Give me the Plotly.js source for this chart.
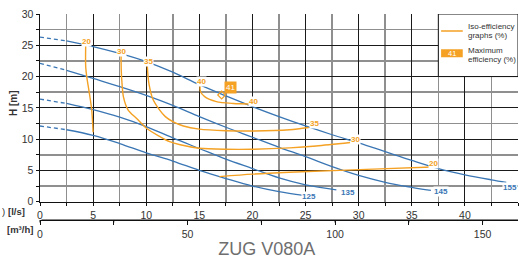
<!DOCTYPE html>
<html>
<head>
<meta charset="utf-8">
<script src="https://cdn.plot.ly/plotly-3.0.1.min.js"></script>
<style>html,body{margin:0;padding:0;background:#fff;}#chart{width:519px;height:260px;}</style>
</head>
<body>
<div id="chart"></div>
<script>
// ---------- data (Q in l/s, H in m) ----------
const curve155X = [0, 2.5, 5, 7.5, 10, 12.5, 15, 17.5, 20, 22.5, 25, 27.5, 30, 32.5, 35, 37.5, 40, 42.5, 43.9];
const curve155Y = [26.3, 25.7, 24.8, 23.7, 22.4, 20.7, 18.7, 16.9, 15.2, 13.6, 12.1, 10.7, 9.4, 8.0, 6.6, 5.3, 4.3, 3.5, 3.1];
const curve145X = [0, 2.5, 5, 7.5, 10, 12.5, 15, 17.5, 20, 22.5, 25, 27.5, 30, 32.5, 35, 36.8];
const curve145Y = [22.1, 21.0, 19.7, 18.4, 17.0, 15.4, 13.6, 11.9, 10.3, 8.7, 7.2, 5.6, 4.2, 3.1, 2.3, 1.8];
const curve135X = [0, 2.5, 5, 7.5, 10, 12.5, 15, 17.5, 20, 22.5, 25, 27.9];
const curve135Y = [16.4, 15.7, 14.7, 13.5, 12.0, 10.2, 8.5, 6.8, 5.3, 3.8, 2.7, 1.9];
const curve125X = [0, 2.5, 5, 7.5, 10, 12.5, 15, 17.5, 20, 22.5, 24.8];
const curve125Y = [12.1, 11.5, 10.6, 9.3, 7.8, 6.5, 5.0, 3.7, 2.5, 1.6, 1.0];
const dashEndQ = 2.5; // pump curves are dashed below this flow

const pumpNames = ['125', '135', '145', '155'];
const pumpLabelX = [25.3, 28.95, 37.75, 44.2];
const pumpLabelY = [0.88, 1.5, 1.66, 2.27];

// iso-efficiency curves
const iso20aX = [4.3, 4.3, 4.4, 4.65, 4.87, 5.0];
const iso20aY = [25.0, 21.6, 20.0, 17.3, 14.65, 11.1];
const iso20bX = [16.9, 20, 23.5, 28.2, 32, 36.9];
const iso20bY = [4.0, 4.4, 4.7, 5.0, 5.25, 5.55];
const iso30X = [7.63, 7.65, 7.7, 7.85, 8.3, 9.1, 10.05, 11.3, 12.2, 13.2, 15, 17.5, 20, 23.5, 26, 29.2];
const iso30Y = [23.5, 21.0, 19.4, 16.8, 14.65, 13.3, 11.7, 10.4, 9.6, 9.1, 8.55, 8.38, 8.38, 8.6, 8.9, 9.45];
const iso35X = [10.1, 10.15, 10.25, 10.6, 11.2, 11.8, 12.5, 13.5, 15, 17.5, 20, 23.5, 25.3];
const iso35Y = [21.9, 20.5, 18.9, 16.5, 14.8, 13.6, 12.8, 12.1, 11.6, 11.35, 11.3, 11.5, 11.85];
const iso40X = [15.07, 15.1, 15.5, 16.6, 18.2, 19.8, 20.1];
const iso40Y = [18.6, 17.6, 16.8, 16.0, 15.7, 15.6, 15.45];

const isoNames = ['20', '30', '35', '40', '40', '35', '30', '20'];
const isoLabelX = [4.4, 7.7, 10.2, 15.2, 20.1, 25.8, 29.7, 37.0];
const isoLabelY = [25.55, 24.0, 22.4, 19.2, 16.0, 12.5, 10.0, 6.1];

const bestQ = [17.1];
const bestH = [17.05];
const bestEff = '41';
const bestLabelX = 17.9, bestLabelY = 18.3;

const qMaxLs = 45;
const lsToM3h = 3.6;
const m3hTickVals = [0, 25, 50, 75, 100, 125, 150];
const m3hTickText = ['0', '', '50', '', '100', '', '150'];

// ---------- styling ----------
const BLUE = '#3a76b4';
const ORANGE = '#f4a124';
const FONT = 'Liberation Sans, Arial, sans-serif';
const INK = '#111';

const traces = [];
function pumpTraces(xs, ys) {
  const dx = [], dy = [], sx = [], sy = [];
  xs.forEach((x, i) => {
    if (x <= dashEndQ) { dx.push(x); dy.push(ys[i]); }
    if (x >= dashEndQ) { sx.push(x); sy.push(ys[i]); }
  });
  traces.push({x: dx, y: dy, mode: 'lines', line: {color: BLUE, width: 1.3, dash: '4px,3px', shape: 'spline'}, hoverinfo: 'skip', showlegend: false});
  traces.push({x: sx, y: sy, mode: 'lines', line: {color: BLUE, width: 1.3, shape: 'spline'}, hoverinfo: 'skip', showlegend: false});
}
pumpTraces(curve155X, curve155Y);
pumpTraces(curve145X, curve145Y);
pumpTraces(curve135X, curve135Y);
pumpTraces(curve125X, curve125Y);

[[iso20aX, iso20aY], [iso20bX, iso20bY], [iso30X, iso30Y], [iso35X, iso35Y], [iso40X, iso40Y]].forEach(([xs, ys]) => {
  traces.push({x: xs, y: ys, mode: 'lines', line: {color: ORANGE, width: 1.4, shape: 'spline', smoothing: 0.8}, hoverinfo: 'skip', showlegend: false});
});

traces.push({x: bestQ, y: bestH, mode: 'markers', marker: {symbol: 'diamond-open', size: 6, color: ORANGE, line: {width: 1.2, color: ORANGE}}, hoverinfo: 'skip', showlegend: false});

// invisible trace on a flat helper subplot carrying the m³/h axis labels
traces.push({x: [0, qMaxLs * lsToM3h], y: [null, null], xaxis: 'x2', yaxis: 'y2', mode: 'lines', hoverinfo: 'skip', showlegend: false});

const annotations = [];
pumpNames.forEach((t, i) => annotations.push({x: pumpLabelX[i], y: pumpLabelY[i], text: '<b>' + t + '</b>', showarrow: false, font: {family: FONT, size: 8, color: BLUE}, bgcolor: '#fff', borderpad: 0}));
isoNames.forEach((t, i) => annotations.push({x: isoLabelX[i], y: isoLabelY[i], text: '<b>' + t + '</b>', showarrow: false, font: {family: FONT, size: 8, color: ORANGE}, bgcolor: '#fff', borderpad: 0}));
annotations.push({x: bestLabelX, y: bestLabelY, text: bestEff, showarrow: false, font: {family: FONT, size: 8, color: '#fff'}, bgcolor: ORANGE, borderpad: 1});

// legend texts
const legFont = {family: FONT, size: 8, color: '#333'};
annotations.push({x: 40.1, y: 28.07, xanchor: 'left', yanchor: 'middle', text: 'Iso-efficiency', showarrow: false, font: legFont});
annotations.push({x: 40.1, y: 26.63, xanchor: 'left', yanchor: 'middle', text: 'graphs (%)', showarrow: false, font: legFont});
annotations.push({x: 40.1, y: 24.23, xanchor: 'left', yanchor: 'middle', text: 'Maximum', showarrow: false, font: legFont});
annotations.push({x: 40.1, y: 22.7, xanchor: 'left', yanchor: 'middle', text: 'efficiency (%)', showarrow: false, font: legFont});
annotations.push({x: 38.78, y: 23.71, text: bestEff, showarrow: false, font: {family: FONT, size: 7.5, color: '#fff'}});

// axis captions (paper coordinates, outside the plot area)
const capFont = {family: FONT, size: 9.5, color: '#333'};
annotations.push({xref: 'paper', yref: 'paper', x: -0.0544, y: 0.568, xanchor: 'center', yanchor: 'middle', text: '<b>H [m]</b>', textangle: -90, showarrow: false, font: {family: FONT, size: 10, color: '#333'}});
annotations.push({xref: 'paper', yref: 'paper', x: -0.0272, y: 0.0403, xanchor: 'right', yanchor: 'middle', text: '<b>[l/s]</b>', showarrow: false, font: capFont});
annotations.push({xref: 'paper', yref: 'paper', x: -0.0105, y: -0.0437, xanchor: 'right', yanchor: 'middle', text: '<b>[m³/h]</b>', showarrow: false, font: capFont});
annotations.push({xref: 'paper', yref: 'paper', x: -0.0837, y: 0.0403, xanchor: 'left', yanchor: 'middle', text: ')', showarrow: false, font: capFont});

// m³/h axis line and its ticks, drawn as head-less annotation strokes
annotations.push({xref: 'paper', yref: 'paper', x: 1, y: 0, ax: -478, ay: 0, axref: 'pixel', ayref: 'pixel', text: '', showarrow: true, arrowhead: 0, arrowwidth: 1.2, arrowcolor: INK, standoff: 0, startstandoff: 0});
m3hTickVals.forEach(t => annotations.push({xref: 'x2', yref: 'paper', x: t, y: 0, ax: 0, ay: 4, text: '', showarrow: true, arrowhead: 0, arrowwidth: 1, arrowcolor: INK, standoff: 0, startstandoff: 0}));

const shapes = [
  {type: 'rect', xref: 'x', yref: 'y', x0: 37.5, x1: 45, y0: 20, y1: 30, fillcolor: '#fff', line: {color: INK, width: 1}, layer: 'above'},
  {type: 'line', xref: 'x', yref: 'y', x0: 37.76, x1: 39.8, y0: 27.3, y1: 27.3, line: {color: ORANGE, width: 1.5}, layer: 'above'},
  {type: 'rect', xref: 'x', yref: 'y', x0: 37.76, x1: 39.8, y0: 23.07, y1: 24.35, fillcolor: ORANGE, line: {width: 0}, layer: 'above'}
];

const gridAxis = {
  showgrid: true, gridcolor: '#1a1a1a', gridwidth: 1,
  minor: {dtick: 2.5, showgrid: true, gridcolor: '#8f8f8f', gridwidth: 1.5, ticks: 'outside', ticklen: 3, tickcolor: INK},
  ticks: 'outside', ticklen: 3, tickcolor: INK,
  showline: true, linecolor: INK, linewidth: 1.5, zeroline: false,
  tickfont: {family: FONT, size: 10.5, color: '#333'}, fixedrange: true
};

const layout = {
  width: 519, height: 260,
  margin: {l: 40, r: 1, t: 14, b: 40, pad: 0},
  paper_bgcolor: '#fff', plot_bgcolor: '#fff',
  showlegend: false,
  title: {text: 'ZUG V080A', font: {family: FONT, size: 18, color: '#6e6e6e'}, xref: 'container', yref: 'container', x: 0.514, y: 0.044, xanchor: 'center', yanchor: 'middle'},
  xaxis: Object.assign({}, gridAxis, {range: [0, qMaxLs], dtick: 5, tick0: 0, anchor: 'y'}),
  yaxis: Object.assign({}, gridAxis, {range: [0, 30], dtick: 5, tick0: 0, domain: [18.3 / 206, 1]}),
  xaxis2: {anchor: 'y2', domain: [0, 1], range: [0, qMaxLs * lsToM3h],
    tickmode: 'array', tickvals: m3hTickVals, ticktext: m3hTickText,
    showgrid: false, zeroline: false, showline: true, linecolor: INK, linewidth: 1.2,
    ticks: 'outside', ticklen: 4, tickcolor: INK, tickwidth: 1,
    tickfont: {family: FONT, size: 10.5, color: '#333'}},
  yaxis2: {domain: [0, 0.002], range: [0, 1], visible: false},
  annotations: annotations,
  shapes: shapes
};

Plotly.newPlot('chart', traces, layout, {displayModeBar: false, staticPlot: true});
</script>
</body>
</html>
